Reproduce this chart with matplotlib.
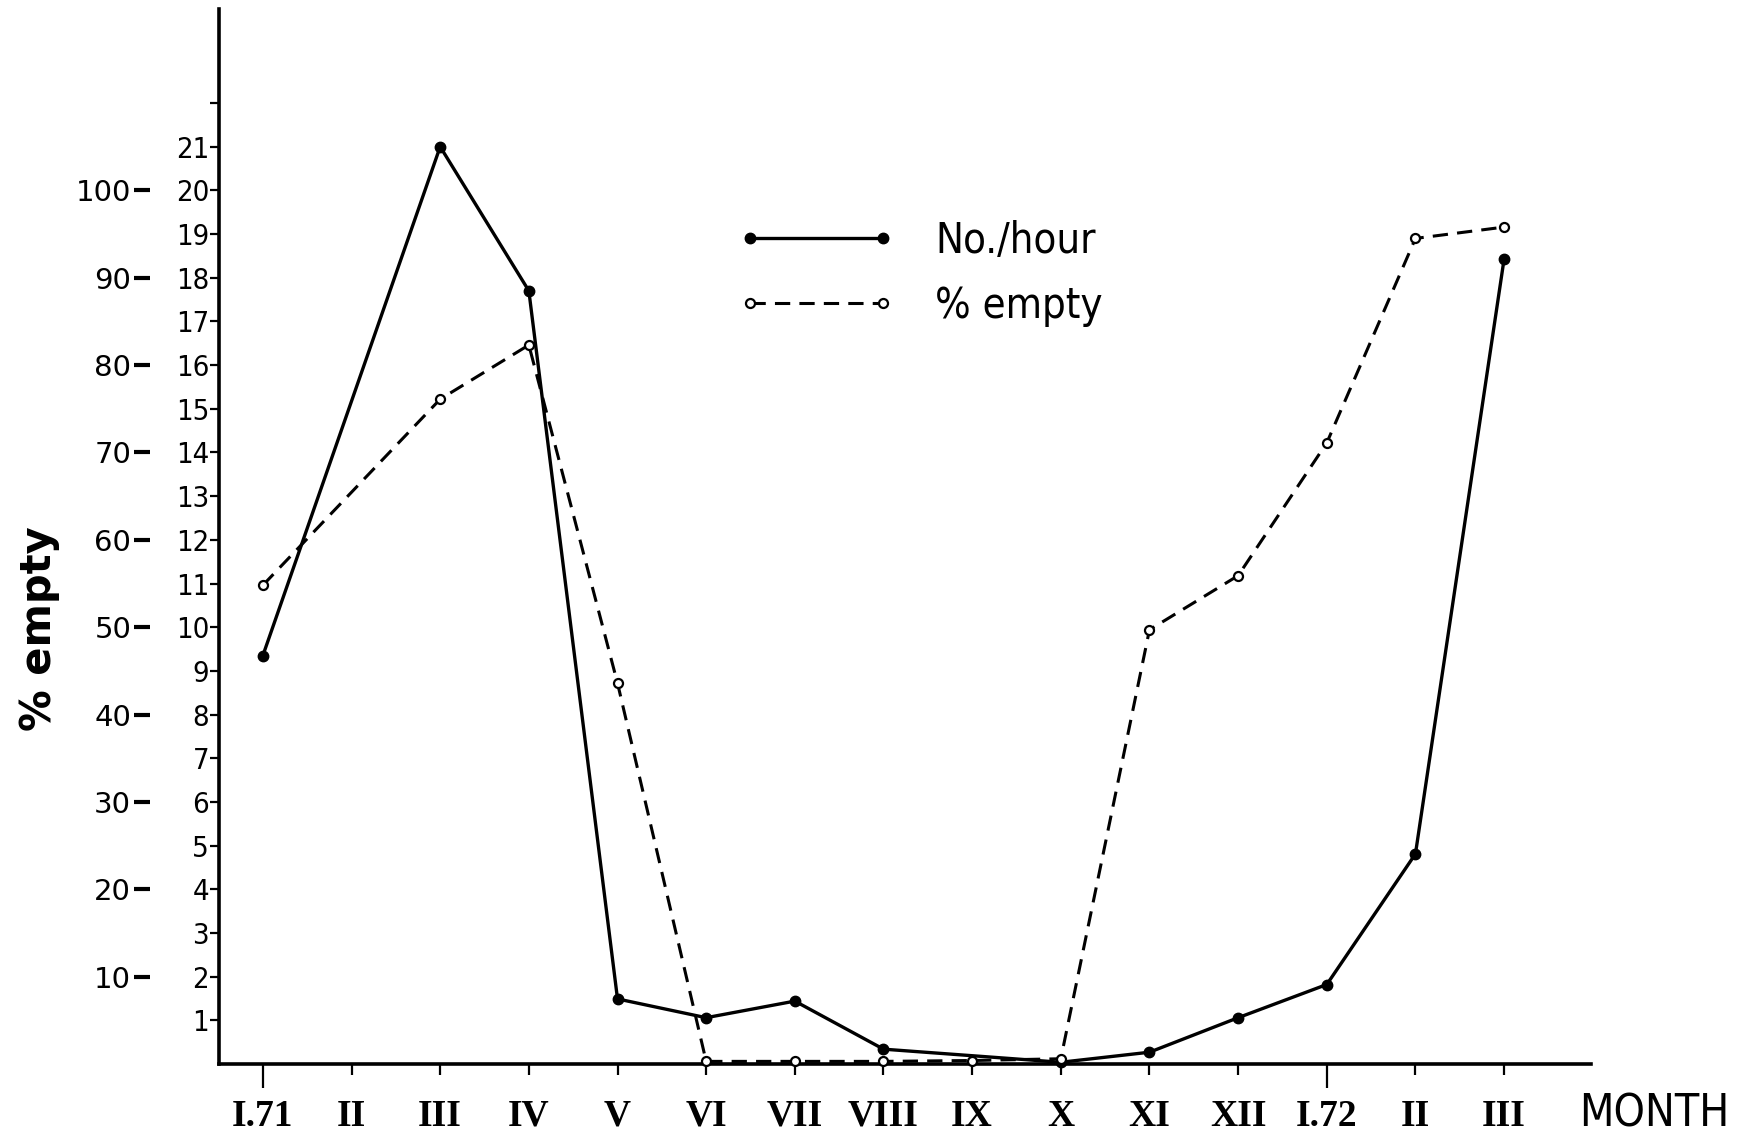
import matplotlib
matplotlib.use("Agg")
import matplotlib.pyplot as plt

# ---- data ----
months = ["I.71", "II", "III", "IV", "V", "VI", "VII", "VIII", "IX", "X",
          "XI", "XII", "I.72", "II", "III"]
rate_idx = [0, 2, 3, 4, 5, 6, 7, 9, 10, 11, 12, 13, 14]
rate_vals = [9.35, 21.0, 17.7, 1.49, 1.06, 1.44, 0.34, 0.04, 0.27, 1.06, 1.82, 4.81, 18.43]
empty_idx = [0, 2, 3, 4, 5, 6, 7, 8, 9, 10, 11, 12, 13, 14]
empty_vals = [54.8, 76.1, 82.3, 43.6, 0.3, 0.3, 0.3, 0.4, 0.6, 49.7, 55.9, 71.1, 94.5, 95.8]
rate_ticks = list(range(1, 23))
rate_ticklabels = [str(v) for v in range(1, 22)] + [""]
empty_ticks = [10, 20, 30, 40, 50, 60, 70, 80, 90, 100]
empty_ticklabels = [str(v) for v in empty_ticks]
legend_labels = ["No./hour", "% empty"]

YTOP = 24.15
XL, XR = -0.49, 14.98
rect = [0.1256, 0.0642, 0.7851, 0.9278]

fig = plt.figure(figsize=(17.47, 11.37), dpi=100)
ax = fig.add_axes(rect)
ax2 = fig.add_axes(rect, facecolor="none")

# main axis (No./hour)
for s in ("top", "right"):
    ax.spines[s].set_visible(False)
for s in ("left", "bottom"):
    ax.spines[s].set_linewidth(2.6)
ax.set_xlim(XL, XR)
ax.set_ylim(0, YTOP)
ax.set_xticks(range(len(months)))
ax.set_xticklabels(months, fontfamily="Liberation Serif", fontweight="bold", fontsize=27)
ax.tick_params(axis="x", direction="out", length=8, width=1.6, pad=17)
for i in (0, 12):
    ax.xaxis.get_major_ticks()[i].tick1line.set_markersize(17)
ax.set_yticks(rate_ticks)
ax.set_yticklabels(rate_ticklabels, fontsize=21, fontstretch="condensed")
ax.tick_params(axis="y", direction="out", length=6.5, width=1.6, pad=1)

l1, = ax.plot(rate_idx, rate_vals, color="black", lw=2.4, marker="o", ms=7.5,
              mfc="black", mec="black", clip_on=False, zorder=3)

# secondary scale (% empty)
ax2.set_xlim(XL, XR)
ax2.set_ylim(0, 5 * YTOP)
for s in ("top", "right", "bottom"):
    ax2.spines[s].set_visible(False)
ax2.spines["left"].set_position(("axes", -0.0623))
ax2.spines["left"].set_visible(False)
ax2.set_xticks([])
ax2.set_yticks(empty_ticks)
ax2.set_yticklabels(empty_ticklabels, fontsize=21)
ax2.tick_params(axis="y", direction="in", length=11.5, width=3, pad=2)

l2, = ax2.plot(empty_idx, empty_vals, color="black", lw=2.2, ls="--", dashes=(5, 3),
               marker="o", ms=6.5, mfc="white", mec="black", mew=1.6,
               clip_on=False, zorder=3)

leg = ax2.legend([l1, l2], legend_labels, loc="upper left", bbox_to_anchor=(0.3777, 0.800),
                 frameon=False, numpoints=2, handlelength=3.8, handletextpad=0.95,
                 labelspacing=0.55, borderpad=0, borderaxespad=0,
                 prop={"size": 30, "stretch": "condensed"})

fig.text(0.0223, 0.447, "% empty", rotation=90, fontsize=30, fontweight="bold",
         ha="center", va="center")
fig.text(0.9468, 0.0202, "MONTH", fontsize=32, fontstretch="condensed",
         ha="center", va="center")

fig.savefig("out.png", dpi=100)
